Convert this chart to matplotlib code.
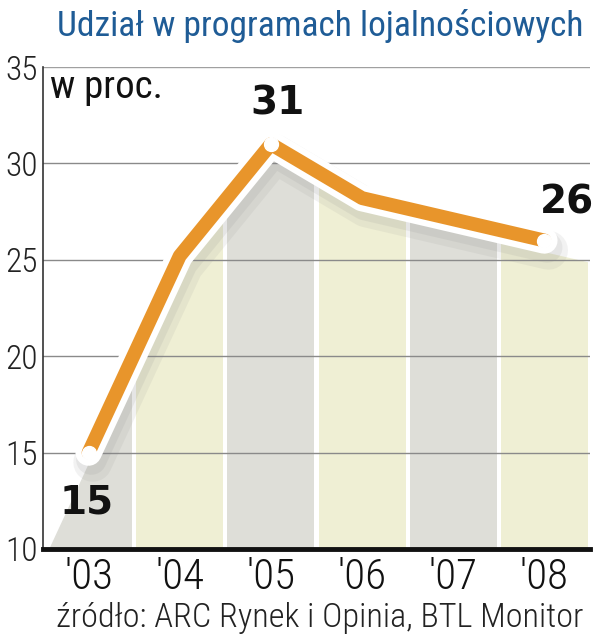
import matplotlib
matplotlib.use("Agg")
import matplotlib.pyplot as plt
import matplotlib.patheffects as pe
from matplotlib.patches import Polygon
from matplotlib import font_manager
import numpy as np

years = ["'03", "'04", "'05", "'06", "'07", "'08"]
values = [15, 25.2, 31, 28.2, 27.1, 26]
labeled = {0: "15", 2: "31", 5: "26"}
yticks = [10, 15, 20, 25, 30, 35]

available = {f.name for f in font_manager.fontManager.ttflist}
narrow_pref = ["Roboto Condensed", "Liberation Sans Narrow", "Open Sans Condensed",
               "Noto Sans Condensed", "Lato", "Roboto"]
NARROW_NAME = next((n for n in narrow_pref if n in available), "DejaVu Sans")
NARROW = [NARROW_NAME, "DejaVu Sans"]

ORANGE = "#E8952B"
BLUE = "#1F5C96"
col_colors = ["#DEDED8", "#EFEFD4"]

fig = plt.figure(figsize=(5.98, 6.40), dpi=100)
ax = fig.add_axes([0.0719, 0.1422, 0.9147, 0.7531])
x = np.arange(len(values))
ax.set_xlim(-0.5, 5.5)
ax.set_ylim(10, 35)

# background columns clipped under the (shifted) line
ext_x = np.concatenate([[-0.5], x, [5.5]])
left_y = values[0] - 0.5 * (values[1] - values[0])
right_y = values[-1] - 0.5 * (values[-2] - values[-1])
ext_y = np.concatenate([[left_y], values, [right_y]]) - 0.6
poly = Polygon(np.column_stack([np.concatenate([ext_x, [5.5, -0.5]]),
                                np.concatenate([ext_y, [10, 10]])]),
               closed=True, transform=ax.transData, facecolor="none", edgecolor="none")
ax.add_patch(poly)
bars = ax.bar(x, [25] * len(x), bottom=10, width=0.955,
              color=[col_colors[i % 2] for i in range(len(x))], zorder=1)
for b in bars:
    b.set_clip_path(poly)

# grid lines
for yv in yticks[1:]:
    ax.axhline(yv, color="#8a8a8a" if yv < 35 else "#a0a0a0", lw=1.0, zorder=2)

# line with white outline and soft shadow
ax.plot(x, values, color=ORANGE, lw=10, solid_capstyle="round", solid_joinstyle="round",
        zorder=4,
        path_effects=[pe.SimpleLineShadow(offset=(3, -7), shadow_color="#888888", alpha=0.10,
                                          linewidth=28),
                      pe.SimpleLineShadow(offset=(2, -5), shadow_color="#888888", alpha=0.12,
                                          linewidth=22),
                      pe.Stroke(linewidth=19, foreground="white"),
                      pe.Normal()])
for i in labeled:
    ax.plot(x[i], values[i], "o", ms=10, mfc="white", mec="white", zorder=5)

# value labels
lab_kw = dict(fontsize=28, fontweight="bold", color="#111111", family=["DejaVu Sans"], zorder=6)
ax.text(x[0] - 0.02, values[0] - 1.6, labeled[0], ha="center", va="top", **lab_kw)
ax.text(x[2] + 0.07, values[2] + 1.1, labeled[2], ha="center", va="bottom", **lab_kw)
ax.text(x[5] + 0.25, values[5] + 1.0, labeled[5], ha="center", va="bottom", **lab_kw)

ax.text(0.012, 0.995, "w proc.", transform=ax.transAxes, ha="left", va="top",
        fontsize=28, color="#111111", family=NARROW, zorder=6)

# axes styling
ax.set_yticks(yticks)
ax.set_yticklabels([str(t) for t in yticks], fontsize=24, color="#222222", family=NARROW,
                   fontweight="light")
ax.tick_params(axis="y", length=0, pad=4)
ax.set_xticks(x)
ax.set_xticklabels(years, fontsize=31, color="#111111", family=NARROW, fontweight="light")
ax.tick_params(axis="x", length=0, pad=6)
for s in ["top", "right"]:
    ax.spines[s].set_visible(False)
ax.spines["left"].set_color("#333333")
ax.spines["left"].set_linewidth(1.2)
ax.spines["bottom"].set_color("#111111")
ax.spines["bottom"].set_linewidth(3.5)
ax.spines["bottom"].set_zorder(7)
ax.set_facecolor("white")

title = fig.text(0.535, 0.960, "Udział w programach lojalnościowych", ha="center",
                 va="center", fontsize=28, color=BLUE, family=NARROW)
source = fig.text(0.535, 0.034, "źródło: ARC Rynek i Opinia, BTL Monitor", ha="center",
                  va="center", fontsize=21, color="#222222", family=NARROW,
                  fontweight="light")

# fit the wide texts to their widths in the reference
renderer = fig.canvas.get_renderer()
for t, target in [(title, 526), (source, 526)]:
    w = t.get_window_extent(renderer).width
    t.set_fontsize(t.get_fontsize() * target / w)

fig.savefig("out.png", dpi=100)
